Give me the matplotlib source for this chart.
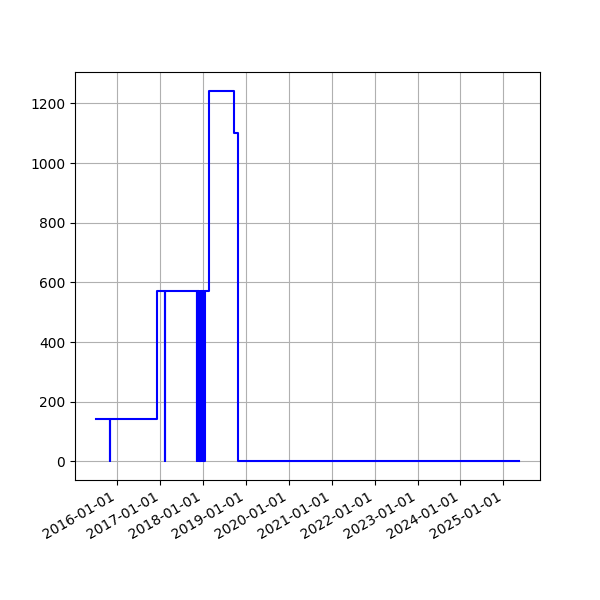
import matplotlib
matplotlib.use('Agg')
import matplotlib.pyplot as plt
import matplotlib.dates as mdates
import numpy as np

# change dates and the value held from each one on
dates = ['2015-07-03', '2015-10-25', '2015-10-27',
         '2016-11-30', '2017-02-08', '2017-02-10',
         '2017-11-09', '2017-11-11', '2017-11-15', '2017-11-18', '2017-11-22',
         '2017-11-25', '2017-11-29', '2017-12-02', '2017-12-06', '2017-12-09',
         '2017-12-13', '2017-12-16', '2017-12-20', '2017-12-23', '2017-12-27',
         '2017-12-30', '2018-01-03', '2018-01-06', '2018-01-10', '2018-01-13',
         '2018-02-20', '2018-09-16', '2018-10-20', '2025-05-13']
values = [143, 0, 143,
          570, 0, 570,
          0, 570, 0, 570, 0,
          570, 0, 570, 0, 570,
          0, 570, 0, 570, 0,
          570, 0, 570, 0, 570,
          1243, 1100, 0, 0]

x = np.array(dates, dtype='datetime64[D]')

fig, ax = plt.subplots(figsize=(6, 6), dpi=100)
ax.step(x, values, where='post', color='blue')
ax.grid(True)
ax.xaxis.set_major_locator(mdates.YearLocator())
ax.xaxis.set_major_formatter(mdates.DateFormatter('%Y-%m-%d'))
fig.autofmt_xdate()

plt.savefig('out.png')
